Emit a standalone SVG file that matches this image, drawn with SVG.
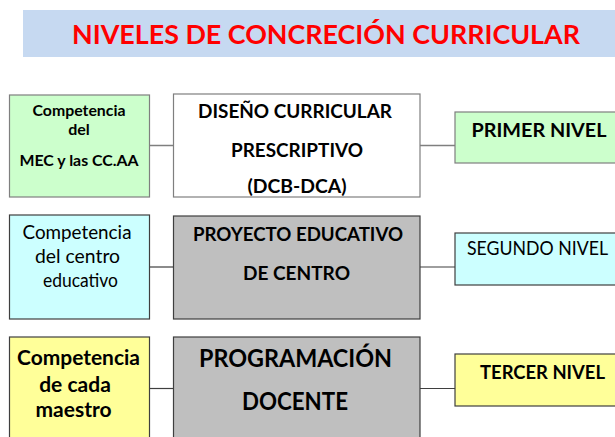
<svg xmlns="http://www.w3.org/2000/svg" width="615" height="437" viewBox="0 0 615 437">
<style>
text{font-family:Lato,"Open Sans","Liberation Sans",sans-serif;text-anchor:middle;fill:#000}
.b{font-weight:700}
.r{font-weight:400}
.title{font-weight:700;fill:#ff0000;font-size:27.5px}
.r1{stroke:#7f7f7f;stroke-width:1.2}
.r2{stroke:#3f3f3f;stroke-width:1.2}
.green{fill:#ccffcc}
.cyan{fill:#ccffff}
.yellow{fill:#ffff99}
.gray{fill:#bfbfbf}
.white{fill:#ffffff}
.c1{stroke:#7f7f7f;stroke-width:1.5}
.c2{stroke:#3f3f3f;stroke-width:1.2}
</style>
<rect x="0" y="0" width="615" height="437" fill="#ffffff"/>
<g id="title">
<rect x="23" y="10" width="600" height="47" fill="#c6d9f1"/>
<text class="title" x="326" y="44" textLength="508" lengthAdjust="spacingAndGlyphs">NIVELES DE CONCRECIÓN CURRICULAR</text>
</g>
<g id="connectors">
<line class="c1" x1="149" y1="145.5" x2="173" y2="145.5"/>
<line class="c1" x1="420" y1="145.5" x2="455" y2="145.5"/>
<line class="c2" x1="149" y1="267" x2="173" y2="267"/>
<line class="c2" x1="420" y1="267" x2="455" y2="267"/>
<line class="c2" x1="149" y1="388.5" x2="173" y2="388.5"/>
<line class="c2" x1="420" y1="388.5" x2="455" y2="388.5"/>
</g>
<g id="comp-mec">
<rect class="green r1" x="9.5" y="95" width="140" height="102"/>
<text class="b" style="font-size:16px" x="79" y="116" textLength="93" lengthAdjust="spacingAndGlyphs">Competencia</text>
<text class="b" style="font-size:16px" x="79" y="135">del</text>
<text class="b" style="font-size:16px" x="79" y="166" textLength="119" lengthAdjust="spacingAndGlyphs">MEC y las CC.AA</text>
</g>
<g id="dcb">
<rect class="white r1" x="173.5" y="94" width="246.5" height="103"/>
<text class="b" style="font-size:19.5px" x="295" y="118" textLength="194" lengthAdjust="spacingAndGlyphs">DISEÑO CURRICULAR</text>
<text class="b" style="font-size:19.5px" x="297" y="156.5" textLength="132" lengthAdjust="spacingAndGlyphs">PRESCRIPTIVO</text>
<text class="b" style="font-size:19.5px" x="297" y="193" textLength="99" lengthAdjust="spacingAndGlyphs">(DCB-DCA)</text>
</g>
<g id="primer">
<rect class="green r1" x="455" y="112" width="170" height="51"/>
<text class="b" style="font-size:18.5px" x="539" y="136.5" textLength="135" lengthAdjust="spacingAndGlyphs">PRIMER NIVEL</text>
</g>
<g id="comp-centro">
<rect class="cyan r2" x="9.5" y="215" width="140" height="104"/>
<text class="r" style="font-size:18.5px" x="77" y="238.5" textLength="109" lengthAdjust="spacingAndGlyphs">Competencia</text>
<text class="r" style="font-size:18.5px" x="77.5" y="263" textLength="85" lengthAdjust="spacingAndGlyphs">del centro</text>
<text class="r" style="font-size:18.5px" x="80.5" y="287" textLength="75" lengthAdjust="spacingAndGlyphs">educativo</text>
</g>
<g id="pec">
<rect class="gray r2" x="173.5" y="216" width="246.5" height="103"/>
<text class="b" style="font-size:19.5px" x="298" y="240.5" textLength="210" lengthAdjust="spacingAndGlyphs">PROYECTO EDUCATIVO</text>
<text class="b" style="font-size:19.5px" x="296.5" y="279.5" textLength="107" lengthAdjust="spacingAndGlyphs">DE CENTRO</text>
</g>
<g id="segundo">
<rect class="cyan r2" x="455" y="233" width="170" height="52"/>
<text class="r" style="font-size:18.5px" x="537.5" y="254.5" textLength="141" lengthAdjust="spacingAndGlyphs">SEGUNDO NIVEL</text>
</g>
<g id="comp-maestro">
<rect class="yellow r2" x="9.5" y="337" width="140" height="110"/>
<text class="b" style="font-size:21px" x="78.5" y="364.5" textLength="123" lengthAdjust="spacingAndGlyphs">Competencia</text>
<text class="b" style="font-size:21px" x="75" y="391.5">de cada</text>
<text class="b" style="font-size:21px" x="73.5" y="417">maestro</text>
</g>
<g id="pd">
<rect class="gray r2" x="173.5" y="337" width="246.5" height="110"/>
<text class="b" style="font-size:24px" x="295.5" y="366.5" textLength="193" lengthAdjust="spacingAndGlyphs">PROGRAMACIÓN</text>
<text class="b" style="font-size:24px" x="295" y="410" textLength="106" lengthAdjust="spacingAndGlyphs">DOCENTE</text>
</g>
<g id="tercer">
<rect class="yellow r2" x="455" y="354" width="170" height="52"/>
<text class="b" style="font-size:18.5px" x="542.5" y="378.5" textLength="125" lengthAdjust="spacingAndGlyphs">TERCER NIVEL</text>
</g>
</svg>
